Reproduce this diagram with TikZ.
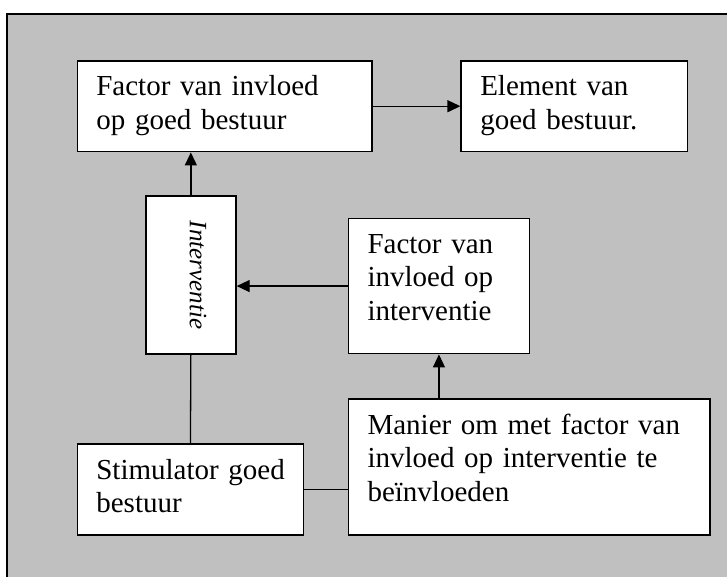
\documentclass[tikz,border=0pt]{standalone}
\usepackage{fontspec}
\setmainfont{Liberation Serif}
\usetikzlibrary{arrows.meta}
\definecolor{kader}{RGB}{192,192,192}

\begin{document}
\begin{tikzpicture}[x=1pt, y=-1pt,
  blok/.style={draw, line width=1.7pt, fill=white, anchor=north west, align=left,
    inner xsep=19pt, inner ysep=0pt, font=\fontsize{29}{33.5}\selectfont},
  pijl/.style={line width=1.3pt, -{Triangle[length=13pt, width=12pt]}},
  lijn/.style={line width=1.3pt}]
  \useasboundingbox (0,0) rectangle (727,576);
  % grijze achtergrond
  \draw[fill=kader, line width=2pt] (7.3,13.7) rectangle (740,590);
  % blokken
  \node[blok, text width=256.4pt, minimum height=90.7pt, text depth=40.7pt] (factor) at (76.5,60)
    {Factor van invloed\\op goed bestuur};
  \node[blok, text width=188.2pt, minimum height=90.7pt, text depth=40.7pt] (element) at (460.4,60)
    {Element van\\goed bestuur.};
  \node[blok, minimum width=90pt, minimum height=158pt] (interventie) at (145,195) {};
  \node[rotate=-90, font=\fontsize{25}{30}\selectfont\itshape] (intervtekst) at (198,275) {Interventie};
  \node[blok, text width=142.8pt, minimum height=135pt, text depth=85pt] (finter) at (347.7,217.7)
    {Factor van\\invloed op\\interventie};
  \node[blok, text width=323.6pt, minimum height=135.7pt, text depth=85.7pt] (manier) at (347.7,398.3)
    {Manier om met factor van\\invloed op interventie te\\beïnvloeden};
  \node[blok, text width=188.2pt, minimum height=90.7pt, text depth=40.7pt] (stimulator) at (76.5,443.3)
    {\mbox{Stimulator goed}\\bestuur};
  % verbindingen
  \draw[pijl] (factor.east) -- (element.west);
  \draw[pijl] (interventie.north) -- (interventie.north |- factor.south);
  \draw[pijl] (finter.west) -- (finter.west -| interventie.east);
  \draw[pijl] (manier.north -| finter.south) -- (finter.south);
  \draw[lijn] (interventie.south) -- (stimulator.north);
  \draw[lijn] (stimulator.east) -- (stimulator.east -| manier.west);
\end{tikzpicture}
\end{document}
